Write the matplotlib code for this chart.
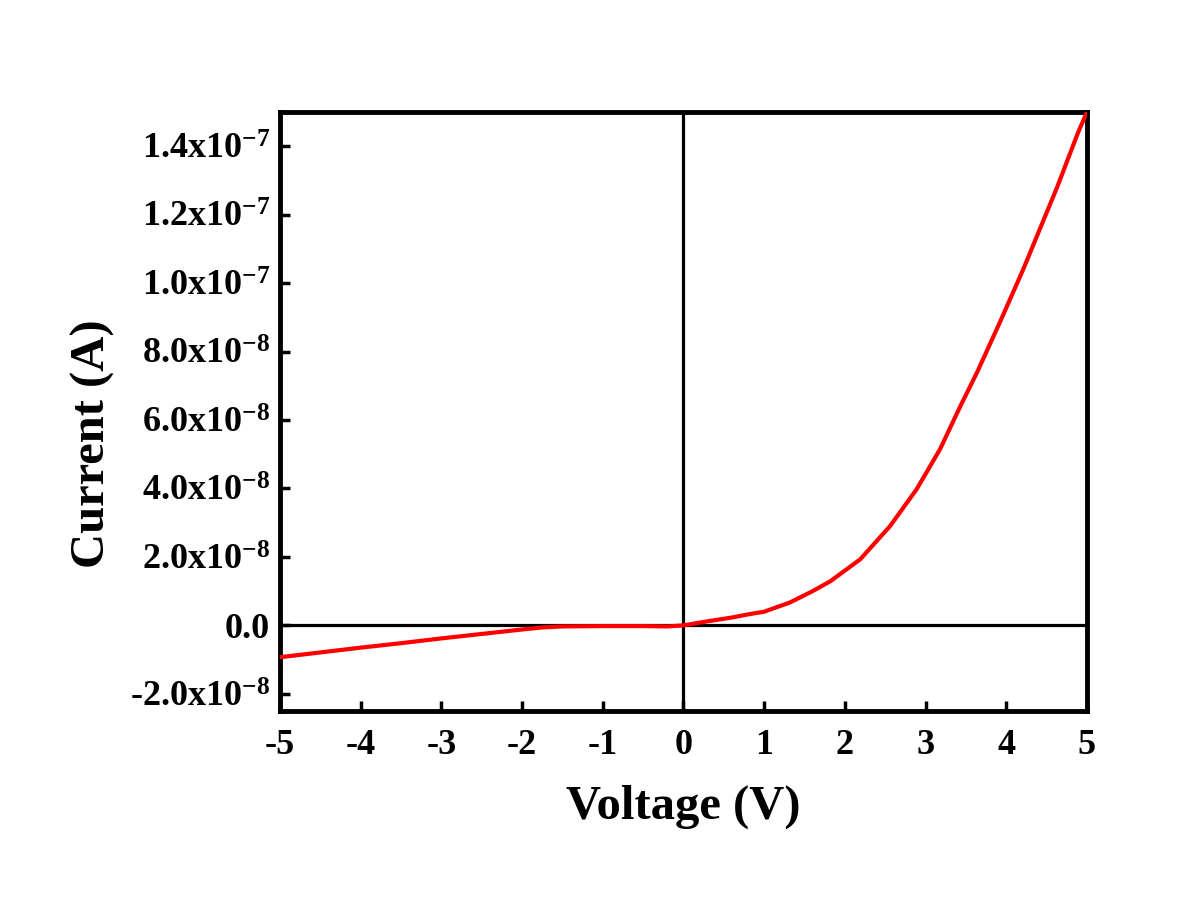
import matplotlib
matplotlib.use("Agg")
import matplotlib.pyplot as plt

# I-V curve
voltage = [-5, -4.5, -4, -3.5, -3, -2.5, -2, -1.75, -1.5, -1, -0.5, -0.2, 0,
           0.3, 0.6, 0.82, 1.0, 1.32, 1.6, 1.82, 2.19, 2.56, 2.89, 3.18, 3.43,
           3.64, 3.92, 4.21, 4.42, 4.63, 4.89, 5.0]
current_e8 = [-0.93, -0.79, -0.65, -0.52, -0.38, -0.25, -0.12, -0.06, -0.03,
              -0.02, -0.02, -0.03, 0, 0.12, 0.23, 0.33, 0.40, 0.67, 1.0, 1.29,
              1.93, 2.9, 3.98, 5.15, 6.4, 7.4, 8.85, 10.4, 11.6, 12.8, 14.4, 15.0]
current = [c * 1e-8 for c in current_e8]

xticks = [-5, -4, -3, -2, -1, 0, 1, 2, 3, 4, 5]
yticks = [-2e-8, 0, 2e-8, 4e-8, 6e-8, 8e-8, 1e-7, 1.2e-7, 1.4e-7]
ytick_labels = [r"-2.0x10$^{-8}$", "0.0", r"2.0x10$^{-8}$", r"4.0x10$^{-8}$",
                r"6.0x10$^{-8}$", r"8.0x10$^{-8}$", r"1.0x10$^{-7}$",
                r"1.2x10$^{-7}$", r"1.4x10$^{-7}$"]

plt.rcParams["font.family"] = "Liberation Serif"
plt.rcParams["font.weight"] = "bold"
plt.rcParams["mathtext.fontset"] = "custom"
plt.rcParams["mathtext.rm"] = "Liberation Serif:bold"
plt.rcParams["mathtext.bf"] = "Liberation Serif:bold"
plt.rcParams["mathtext.it"] = "Liberation Serif:bold"
plt.rcParams["mathtext.default"] = "rm"

fig = plt.figure(figsize=(12, 9.08), dpi=100)
ax = fig.add_axes([0.2333, 0.217, 0.6725, 0.6597])

ax.axhline(0, color="black", lw=2.3, zorder=1)
ax.axvline(0, color="black", lw=2.3, zorder=1)
ax.plot(voltage, current, color="#ff0000", lw=3, zorder=3)

ax.set_xlim(-5, 5)
ax.set_ylim(-2.5e-8, 1.5e-7)
ax.set_xticks(xticks)
ax.set_xticklabels([str(t) for t in xticks])
ax.set_yticks(yticks)
ax.set_yticklabels(ytick_labels)

for s in ax.spines.values():
    s.set_linewidth(3.5)
ax.tick_params(direction="in", length=7, width=2.5, top=False, right=False)
ax.tick_params(axis="x", labelsize=26, pad=13)
ax.tick_params(axis="y", labelsize=26, pad=7)

ax.set_xlabel("Voltage (V)", fontsize=35, fontweight="bold", labelpad=16)
ax.set_ylabel("Current (A)", fontsize=35, fontweight="bold")
ax.yaxis.set_label_coords(-0.205, 0.446)

fig.savefig("out.png", dpi=100)
